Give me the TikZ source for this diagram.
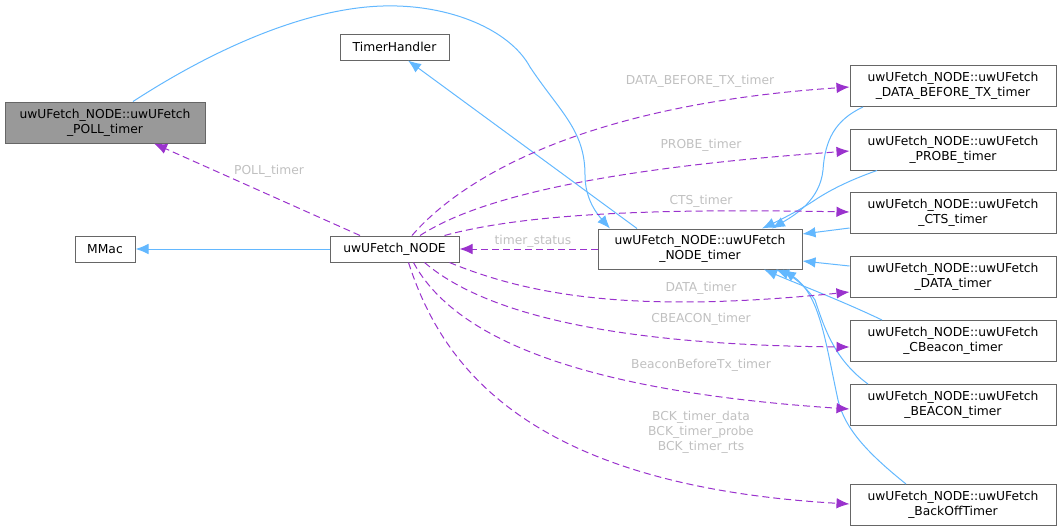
\documentclass[tikz,border=0pt]{standalone}
\usepackage{fontspec}
\setmainfont{DejaVu Sans}
\usetikzlibrary{arrows.meta,calc}
\definecolor{inhc}{HTML}{63B8FF}
\definecolor{usec}{HTML}{9A32CD}
\definecolor{lblc}{HTML}{C0C0C0}
\definecolor{bordc}{HTML}{666666}
\definecolor{hlfill}{HTML}{999999}
\begin{document}
\begin{tikzpicture}[x=1pt,y=-1pt,
  every node/.style={font=\fontsize{12.3}{15}\selectfont},
  cls/.style={draw=bordc,line width=1pt,fill=white,minimum height=41pt,align=center,inner sep=0pt},
  inh/.style={draw=inhc,line width=1pt,-{Latex[length=13pt,width=10.5pt]}},
  use/.style={draw=usec,line width=1pt,dash pattern=on 7pt off 4pt,-{Latex[length=13pt,width=10.5pt]}},
  lbl/.style={text=lblc,align=center,inner sep=0pt}]
\useasboundingbox (0,0) rectangle (1060,531);

% nodes
\node[cls,fill=hlfill,minimum width=200pt] (poll) at (105,122.5) {uwUFetch\_NODE::uwUFetch\\\_POLL\_timer};
\node[cls,minimum width=109pt,minimum height=26pt] (th) at (394.5,47) {TimerHandler};
\node[cls,minimum width=60pt,minimum height=26pt] (mmac) at (105,249) {MMac};
\node[cls,minimum width=129pt,minimum height=26pt] (nd) at (394.5,249) {uwUFetch\_NODE};
\node[cls,minimum width=204pt,minimum height=40pt] (nt) at (700,249) {uwUFetch\_NODE::uwUFetch\\\_NODE\_timer};
\node[cls,minimum width=206pt] (dbt) at (953,86) {uwUFetch\_NODE::uwUFetch\\\_DATA\_BEFORE\_TX\_timer};
\node[cls,minimum width=206pt] (probe) at (953,149.5) {uwUFetch\_NODE::uwUFetch\\\_PROBE\_timer};
\node[cls,minimum width=206pt] (cts) at (953,213) {uwUFetch\_NODE::uwUFetch\\\_CTS\_timer};
\node[cls,minimum width=206pt] (data) at (953,277) {uwUFetch\_NODE::uwUFetch\\\_DATA\_timer};
\node[cls,minimum width=206pt] (cbeacon) at (953,341) {uwUFetch\_NODE::uwUFetch\\\_CBeacon\_timer};
\node[cls,minimum width=206pt] (beacon) at (953,405) {uwUFetch\_NODE::uwUFetch\\\_BEACON\_timer};
\node[cls,minimum width=206pt] (backoff) at (953,505) {uwUFetch\_NODE::uwUFetch\\\_BackOffTimer};

% inheritance edges
\draw[inh] (nd.west) -- (mmac.east);
\draw[inh] ($(nt.north)+(-63,0)$) -- ($(th.south)+(13.5,0)$);
\draw[inh] ($(poll.north)+(28,0)$) .. controls (220,45) and (310,8) .. (383,6)
  .. controls (450,4) and (510,30) .. (530,67)
  .. controls (560,112) and (585,130) .. (585,175)
  .. controls (585,200) and (598,215) .. ($(nt.north)+(-90,0)$);
\draw[inh] ($(dbt.south)+(-90,0)$) .. controls (835,120) and (825,140) .. (823,170)
  .. controls (820,200) and (795,215) .. ($(nt.north)+(72,0)$);
\draw[inh] ($(probe.south)+(-76,0)$) .. controls (850,180) and (830,190) .. (815,200)
  .. controls (800,210) and (780,220) .. ($(nt.north)+(62,0)$);
\draw[inh] ($(cts.west)+(0,15)$) -- ($(nt.east)+(0,-15)$);
\draw[inh] ($(data.west)+(0,-11)$) -- ($(nt.east)+(0,12)$);
\draw[inh] ($(cbeacon.north)+(-71,0)$) .. controls (840,300) and (800,285) .. ($(nt.south)+(64,0)$);
\draw[inh] ($(beacon.north)+(-85,0)$) .. controls (835,360) and (825,330) .. (815,300)
  .. controls (805,285) and (790,275) .. ($(nt.south)+(76,0)$);
\draw[inh] ($(backoff.north)+(-47,0)$) .. controls (870,455) and (845,430) .. (838,400)
  .. controls (825,340) and (820,295) .. ($(nt.south)+(83,0)$);

% usage edges
\draw[use] ($(nd.north)+(-34.5,0)$) -- ($(poll.south)+(49,0)$);
\node[lbl] (lpoll) at (269,171) {POLL\_timer};
\draw[use] (nt.west) -- (nd.east);
\node[lbl] (lts) at (533,241) {timer\_status};
\draw[use] ($(nd.north)+(17.5,0)$) .. controls (460,180) and (580,105) .. ($(dbt.west)+(0,1)$);
\node[lbl] (ldbt) at (700,81) {DATA\_BEFORE\_TX\_timer};
\draw[use] ($(nd.north)+(25.5,0)$) .. controls (460,210) and (550,172) .. ($(probe.west)+(0,1.5)$);
\node[lbl] (lprobe) at (701,145) {PROBE\_timer};
\draw[use] ($(nd.north)+(50,0)$) .. controls (520,215) and (640,208) .. ($(cts.west)+(0,-1)$);
\node[lbl] (lcts) at (701,201) {CTS\_timer};
\draw[use] ($(nd.south)+(55,0)$) .. controls (540,300) and (650,312) .. ($(data.west)+(0,15)$);
\node[lbl] (ldata) at (701,288) {DATA\_timer};
\draw[use] ($(nd.south)+(30,0)$) .. controls (480,310) and (600,345) .. ($(cbeacon.west)+(0,6)$);
\node[lbl] (lcb) at (701,319) {CBEACON\_timer};
\draw[use] ($(nd.south)+(19,0)$) .. controls (450,330) and (560,390) .. ($(beacon.west)+(0,4)$);
\node[lbl] (lbeacon) at (701,365) {BeaconBeforeTx\_timer};
\draw[use] ($(nd.south)+(14,0)$) .. controls (440,360) and (520,485) .. ($(backoff.west)+(0,-1)$);
\node[lbl] (lbck) at (701,432) {BCK\_timer\_data\\BCK\_timer\_probe\\BCK\_timer\_rts};
\end{tikzpicture}
\end{document}
